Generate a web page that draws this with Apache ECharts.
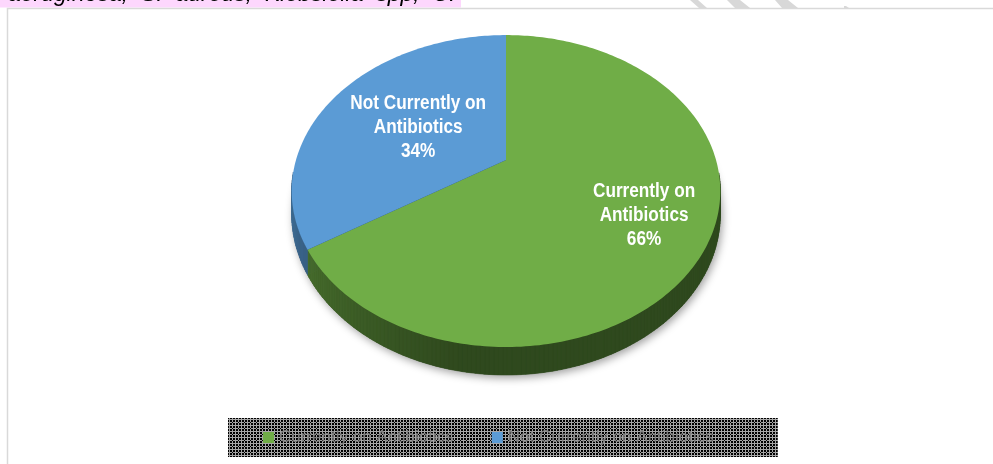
<!DOCTYPE html>
<html><head><meta charset="utf-8">
<script src="https://cdn.jsdelivr.net/npm/echarts@6/dist/echarts.min.js"></script>
<style>html,body{margin:0;padding:0;background:#fff;overflow:hidden}#c{width:993px;height:464px}</style>
</head><body><div id="c"></div>
<script>
// ---- data ----
const categories = ['Currently on Antibiotics', 'Not Currently on Antibiotics'];
const values = [66, 34];
const labelNames = ['Currently on\nAntibiotics', 'Not Currently on\nAntibiotics'];
const headerText = 'aeruginosa,  S.  aureus,  Klebsiella  spp,  C.';

// ---- style ----
const colors = ['#70AD47', '#5B9BD5'];
const CX = 506, CY = 160, A = 210, B = 149.8, P = 0.199, T = 22.4;
const labelR = [0.7, 0.5];

function proj(theta, r) {
  const rad = theta * Math.PI / 180;
  const X = Math.sin(rad) * r, Z = Math.cos(rad) * r;
  const s = 1 / (1 + P * Z);
  return [CX + A * X * s, CY - B * Z * s, s];
}
function shade(hex, f) {
  const n = parseInt(hex.slice(1), 16);
  return 'rgb(' + Math.round(((n >> 16) & 255) * f) + ',' + Math.round(((n >> 8) & 255) * f) + ',' + Math.round((n & 255) * f) + ')';
}
const total = values.reduce((a, b) => a + b, 0);

function makeRender(i) {
  return function (params, api) {
    const v = api.value(0);
    let start = 0; for (let k = 0; k < i; k++) start += values[k];
    const a0 = start / total * 360, a1 = (start + v) / total * 360;
    const steps = Math.max(8, Math.ceil(a1 - a0));
    const children = [];
    // bottom face with shadow
    const bot = [[CX, CY + T]];
    for (let k = 0; k <= steps; k++) { const p = proj(a0 + (a1 - a0) * k / steps, 1); bot.push([p[0], p[1] + T * p[2]]); }
    children.push({ type: 'polygon', z2: 0, shape: { points: bot }, style: { fill: shade(colors[i], 0.42), shadowBlur: 9, shadowColor: 'rgba(0,0,0,0.38)', shadowOffsetX: 2, shadowOffsetY: 3 } });
    // side walls
    for (let k = 0; k < steps; k++) {
      const t0 = a0 + (a1 - a0) * k / steps, t1 = a0 + (a1 - a0) * (k + 1) / steps;
      const tm = (t0 + t1) / 2;
      if (tm < 95 || tm > 265) continue;
      const p0 = proj(t0, 1), p1 = proj(t1, 1);
      const f = 0.42 + 0.26 * Math.min(1, Math.max(0, (tm - 190) / 60));
      const c = shade(colors[i], f);
      children.push({ type: 'polygon', z2: 1, shape: { points: [[p0[0], p0[1]], [p1[0], p1[1]], [p1[0], p1[1] + T * p1[2]], [p0[0], p0[1] + T * p0[2]]] }, style: { fill: c, stroke: c, lineWidth: 0.6 } });
    }
    // top face
    const pts = [[CX, CY]];
    for (let k = 0; k <= steps; k++) { const p = proj(a0 + (a1 - a0) * k / steps, 1); pts.push([p[0], p[1]]); }
    children.push({ type: 'polygon', z2: 5, shape: { points: pts }, style: { fill: colors[i] } });
    // label
    const lp = proj((a0 + a1) / 2, labelR[i]);
    children.push({ type: 'text', z2: 10, x: lp[0], y: lp[1] + 1.5, scaleX: 0.86, style: { text: labelNames[i] + '\n' + Math.round(v / total * 100) + '%', fill: '#fff', font: 'bold 20px "Liberation Sans", Arial, sans-serif', align: 'center', verticalAlign: 'middle', lineHeight: 24 } });
    return { type: 'group', children };
  };
}

// legend pattern
const pc = document.createElement('canvas'); pc.width = 6; pc.height = 6;
const g = pc.getContext('2d');
g.fillStyle = '#000'; g.fillRect(0, 0, 6, 6);
g.fillStyle = '#a6a6a6';
g.fillRect(2, 0, 1, 6); g.fillRect(5, 0, 1, 6); g.fillRect(0, 2, 6, 1); g.fillRect(0, 5, 6, 1);
g.fillStyle = '#000'; g.fillRect(5, 5, 1, 1);

const chart = echarts.init(document.getElementById('c'), null, { renderer: 'canvas' });
chart.setOption({
  animation: false,
  backgroundColor: '#fff',
  graphic: [
    { type: 'rect', z: -1, shape: { x: 0, y: 0, width: 461, height: 7.5 }, style: { fill: '#FDD7FD' } },
    { type: 'text', z: 0, x: 8, y: -5.5, style: { text: headerText, fill: '#000', font: 'italic 23px "Liberation Sans", Arial, sans-serif', verticalAlign: 'middle' } },
    { type: 'rect', z: 0, shape: { x: 7.5, y: 8.5, width: 1100, height: 600 }, style: { fill: null, stroke: '#D9D9D9', lineWidth: 1.5 } },
    { type: 'polygon', z: 0, shape: { points: [[690, 0], [698, 0], [707, 8], [699, 8]] }, style: { fill: '#D8D8D8' } },
    { type: 'polygon', z: 0, shape: { points: [[727, 0], [740, 0], [750, 8], [735, 8]] }, style: { fill: '#D8D8D8' } },
    { type: 'polygon', z: 0, shape: { points: [[775, 0], [788, 0], [798, 8], [782, 8]] }, style: { fill: '#D8D8D8' } },
    { type: 'polygon', z: 0, shape: { points: [[844, 6], [846, 6], [849, 8], [844, 8]] }, style: { fill: '#D8D8D8' } }
  ],
  legend: {
    left: 228, top: 418,
    padding: [11, 64, 11, 35],
    itemWidth: 11, itemHeight: 11, itemGap: 38,
    icon: 'rect',
    backgroundColor: { image: pc, repeat: 'repeat' },
    textStyle: { color: '#7F7F7F', fontSize: 17, fontFamily: '"Liberation Sans", Arial, sans-serif' },
    data: categories
  },
  series: categories.map((name, i) => ({
    type: 'custom', name: name, coordinateSystem: 'none',
    itemStyle: { color: colors[i] },
    renderItem: makeRender(i),
    data: [[values[i]]]
  }))
});
</script></body></html>
